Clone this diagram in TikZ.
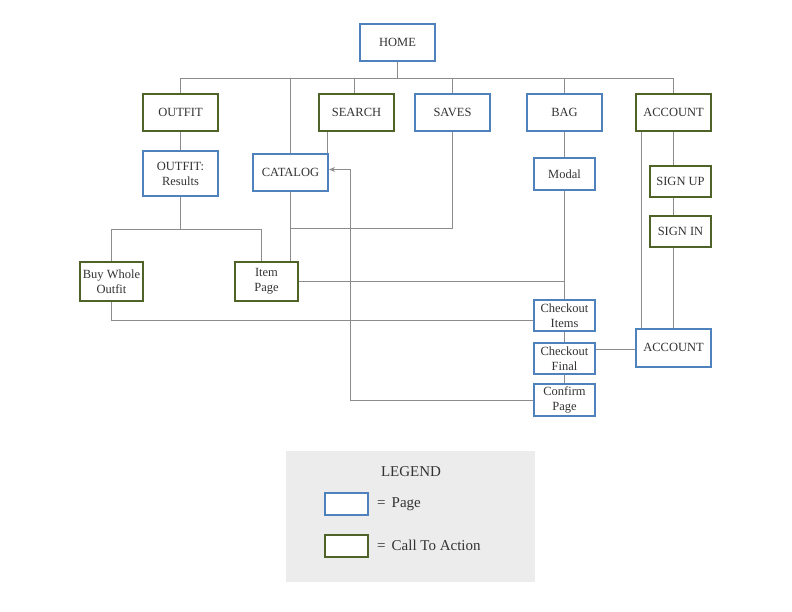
\documentclass[tikz,border=0pt]{standalone}
\usepackage{fontspec}
\setmainfont{Liberation Serif}
\usetikzlibrary{arrows.meta}
\definecolor{pblue}{RGB}{79,129,189}
\definecolor{cgreen}{RGB}{79,98,40}
\definecolor{lnk}{RGB}{140,140,140}
\definecolor{legfill}{RGB}{236,236,236}
\definecolor{txt}{RGB}{51,51,51}
\tikzset{
  boxbase/.style={line width=2pt, fill=white, inner sep=0pt, align=center, text=txt,
    font=\fontsize{12.5}{15}\selectfont, minimum width=75pt, minimum height=37pt},
  page/.style={boxbase, draw=pblue},
  cta/.style={boxbase, draw=cgreen},
  small/.style={minimum width=61pt, minimum height=31pt},
  link/.style={draw=lnk, line width=0.8pt},
  legtext/.style={text=txt, font=\fontsize{15}{18}\selectfont, inner sep=0pt}
}
\begin{document}
\begin{tikzpicture}[x=1pt,y=-1pt]
\useasboundingbox (0,0) rectangle (792,612);
% nodes
\node[page] (home) at (397.5,42.5) {HOME};
\node[cta] (outfit) at (180.5,112.5) {OUTFIT};
\node[cta] (search) at (356.5,112.5) {SEARCH};
\node[page] (saves) at (452.5,112.5) {SAVES};
\node[page] (bag) at (564.5,112.5) {BAG};
\node[cta] (account) at (673.5,112.5) {ACCOUNT};
\node[page, minimum height=45pt] (results) at (180.5,173.5) {OUTFIT:\\Results};
\node[page] (catalog) at (290.5,172.5) {CATALOG};
\node[page, small, minimum height=32pt] (modal) at (564.5,174.5) {Modal};
\node[cta, small] (signup) at (680.5,181.5) {SIGN UP};
\node[cta, small] (signin) at (680.5,231.5) {SIGN IN};
\node[cta, minimum width=63pt, minimum height=38pt] (buy) at (111.5,281.5) {Buy Whole\\Outfit};
\node[cta, minimum width=63pt, minimum height=38pt] (item) at (266.5,281.5) {Item\\Page};
\node[page, small] (citems) at (564.5,315.5) {Checkout\\Items};
\node[page, small] (cfinal) at (564.5,358.5) {Checkout\\Final};
\node[page, small, minimum height=32pt] (confirm) at (564.5,400) {Confirm\\Page};
\node[page, minimum height=38pt] (account2) at (673.5,347.5) {ACCOUNT};
% bus
\coordinate (busL) at (180.5,78);
\coordinate (busR) at (673.5,78);
\draw[link] (busL) -- (busR);
\draw[link] (home.south) -- (home.south |- busL);
\draw[link] (outfit.north) -- (outfit.north |- busL);
\draw[link] (catalog.north) -- (catalog.north |- busL);
\draw[link] ([xshift=-2.5pt]search.north) -- ([xshift=-2.5pt]search.north |- busL);
\draw[link] (saves.north) -- (saves.north |- busL);
\draw[link] (bag.north) -- (bag.north |- busL);
\draw[link] (account.north) -- (account.north |- busL);
% outfit branch
\draw[link] (outfit.south) -- (results.north);
\coordinate (rj) at (180.5,229);
\draw[link] (results.south) -- (rj);
\draw[link] (buy.north) |- (rj);
\draw[link] (rj) -| ([xshift=-5pt]item.north);
% search / saves / catalog
\draw[link] ([xshift=-2pt]catalog.north east) -- ([xshift=-2pt]catalog.north east |- search.south);
\coordinate (sj) at (290.5,228);
\draw[link] (saves.south) |- (sj);
\draw[link] (catalog.south) -- (catalog.south |- item.north);
% bag branch
\draw[link] (bag.south) -- (modal.north);
\draw[link] (modal.south) -- (citems.north);
\draw[link] (item.east) -- (item.east -| modal.south);
\draw[link] (buy.south) |- ([yshift=-5pt]citems.west);
\draw[link] (citems.south) -- (cfinal.north);
\draw[link] (cfinal.south) -- (confirm.north);
\draw[link] ([yshift=9.5pt]cfinal.east) -- ([yshift=9.5pt]cfinal.east -| account2.west);
\coordinate (ret) at (350,169.5);
\draw[link, -{Stealth[open, length=6pt, width=5pt]}] (confirm.west) -| (ret) -- (ret -| catalog.east);
% account branch
\draw[link] ([xshift=-32pt]account.south) -- ([xshift=-32pt]account2.north);
\draw[link] (account.south) -- (account.south |- signup.north);
\draw[link] (account.south |- signup.south) -- (account.south |- signin.north);
\draw[link] (account.south |- signin.south) -- (account2.north);
% legend
\node[fill=legfill, minimum width=249pt, minimum height=131pt, inner sep=0pt] (legend) at (410.5,516.5) {};
\node[legtext] (legtitle) at (411,471.5) {LEGEND};
\node[page, minimum width=43pt, minimum height=22pt] (lpage) at (346,504) {};
\node[legtext, anchor=west] (lpaget) at (377,504.5) {=\hspace{6pt}Page};
\node[cta, minimum width=43pt, minimum height=22pt] (lcta) at (346,545.5) {};
\node[legtext, anchor=west] (lctat) at (377,545.5) {=\hspace{6pt}Call To Action};
\end{tikzpicture}
\end{document}
